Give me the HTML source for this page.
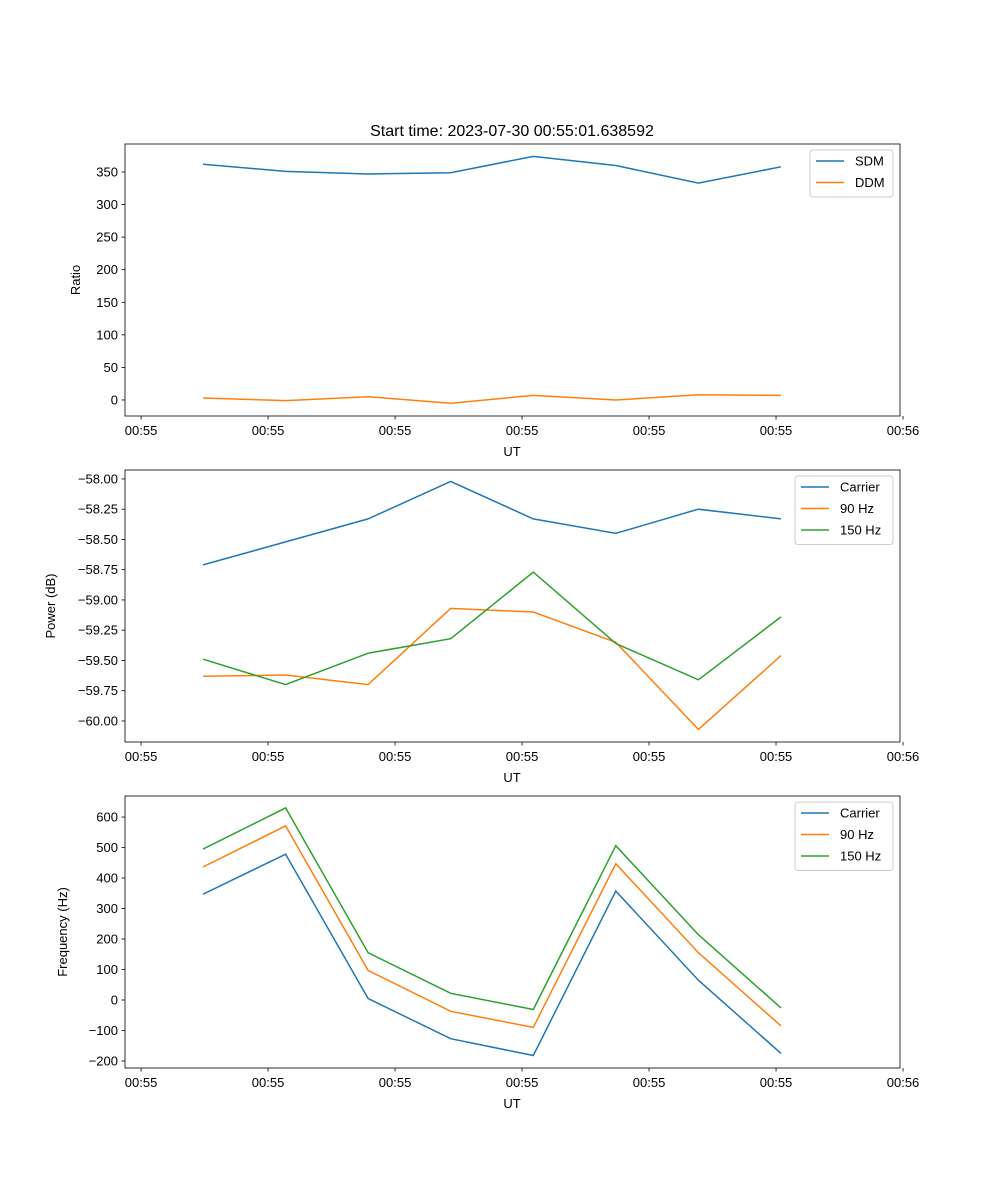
<!DOCTYPE html>
<html><head><meta charset="utf-8"><style>
body{margin:0;background:#fff;}
svg{display:block;font-family:"Liberation Sans","DejaVu Sans",sans-serif;}
</style></head><body>
<svg id="fig" width="1000" height="1200">
<text x="512" y="136" text-anchor="middle" font-size="16">Start time: 2023-07-30 00:55:01.638592</text>
</svg>
<script>
const xIndex = [0,1,2,3,4,5,6,7];
const xTickPos = [-0.75,0.788,2.326,3.864,5.402,6.94,8.478];
const xTickLabels = ["00:55","00:55","00:55","00:55","00:55","00:55","00:56"];
const sdm = [362,351,347,349,374,360,333,358];
const ddm = [3,-1,5,-5,7,0,8,7];
const pwrCarrier = [-58.71,-58.52,-58.33,-58.02,-58.33,-58.45,-58.25,-58.33];
const pwr90 = [-59.63,-59.62,-59.70,-59.07,-59.10,-59.35,-60.07,-59.46];
const pwr150 = [-59.49,-59.70,-59.44,-59.32,-58.77,-59.36,-59.66,-59.14];
const frqCarrier = [347,478,5,-127,-182,357,65,-175];
const frq90 = [436,571,97,-37,-90,447,155,-85];
const frq150 = [495,630,155,22,-31,506,214,-26];
const ticks1 = [0,50,100,150,200,250,300,350];
const ticks2 = [-60,-59.75,-59.5,-59.25,-59,-58.75,-58.5,-58.25,-58];
const ticks3 = [-200,-100,0,100,200,300,400,500,600];

const NS="http://www.w3.org/2000/svg";
const svg=document.getElementById('fig');
function el(tag,attrs,parent){const e=document.createElementNS(NS,tag);for(const k in attrs)e.setAttribute(k,attrs[k]);(parent||svg).appendChild(e);return e;}
const L=125,R=900;
function xs(i){return 203+i*82.57;}
function panel(name,top,bottom,ymin,ymax,yticks,fmt,ylabel,series,legend){
  const g=el('g',{});
  
  
  const ys=v=>bottom-(v-ymin)/(ymax-ymin)*(bottom-top);
  series.forEach(s=>{
    const p=el('polyline',{points:s.vals.map((v,i)=>xs(xIndex[i]).toFixed(1)+','+ys(v).toFixed(1)).join(' '),fill:'none',stroke:s.color,'stroke-width':1.5},g);
    
    
  });
  const fr=el('rect',{x:L,y:top,width:R-L,height:bottom-top,fill:'none',stroke:'#000','stroke-width':0.8},g);
  
  
  yticks.forEach(v=>{const y=ys(v);
    el('line',{x1:L-3.5,x2:L,y1:y,y2:y,stroke:'#000','stroke-width':0.8},g);
    const t=el('text',{x:L-7,y:y+4.5,'text-anchor':'end','font-size':13},g);t.textContent=fmt(v);
    
    
  });
  xTickPos.forEach((v,k)=>{const x=xs(v);
    el('line',{x1:x,x2:x,y1:bottom,y2:bottom+3.5,stroke:'#000','stroke-width':0.8},g);
    const t=el('text',{x:x,y:bottom+19,'text-anchor':'middle','font-size':13},g);t.textContent=xTickLabels[k];
    
    
  });
  const xl=el('text',{x:512,y:bottom+40,'text-anchor':'middle','font-size':13},g);xl.textContent='UT';
  
  
  const yl=el('text',{x:0,y:0,'text-anchor':'middle','font-size':13,transform:`translate(${legend.yx},${(top+bottom)/2}) rotate(-90)`},g);yl.textContent=ylabel;
  
  
  const lg=el('g',{},g);
  
  
  el('rect',{x:legend.x,y:top+6,width:893-legend.x,height:series.length*21.5+4,rx:3,fill:'#fff',stroke:'#ccc','stroke-width':1},lg);
  series.forEach((s,k)=>{const y=top+17+k*21.5;
    el('line',{x1:legend.x+6,x2:legend.x+34,y1:y,y2:y,stroke:s.color,'stroke-width':1.5},lg);
    const t=el('text',{x:legend.x+45,y:y+4.5,'font-size':13},lg);t.textContent=s.label;
    
    
  });
}
const B='#1f77b4',O='#ff7f0e',G='#2ca02c';
panel('ratio-panel',144,416,-24.6,393,ticks1,v=>String(v),'Ratio',
  [{id:'sdm',label:'SDM',vals:sdm,color:B},{id:'ddm',label:'DDM',vals:ddm,color:O}],{x:810,yx:80});
panel('power-panel',470,742,-60.174,-57.926,ticks2,v=>'\u2212'+Math.abs(v).toFixed(2),'Power (dB)',
  [{id:'power-carrier',label:'Carrier',vals:pwrCarrier,color:B},{id:'power-90hz',label:'90 Hz',vals:pwr90,color:O},{id:'power-150hz',label:'150 Hz',vals:pwr150,color:G}],{x:795,yx:55});
panel('frequency-panel',796,1068,-223,669,ticks3,v=>v<0?'\u2212'+Math.abs(v):String(v),'Frequency (Hz)',
  [{id:'freq-carrier',label:'Carrier',vals:frqCarrier,color:B},{id:'freq-90hz',label:'90 Hz',vals:frq90,color:O},{id:'freq-150hz',label:'150 Hz',vals:frq150,color:G}],{x:795,yx:67});
</script>
</body></html>
